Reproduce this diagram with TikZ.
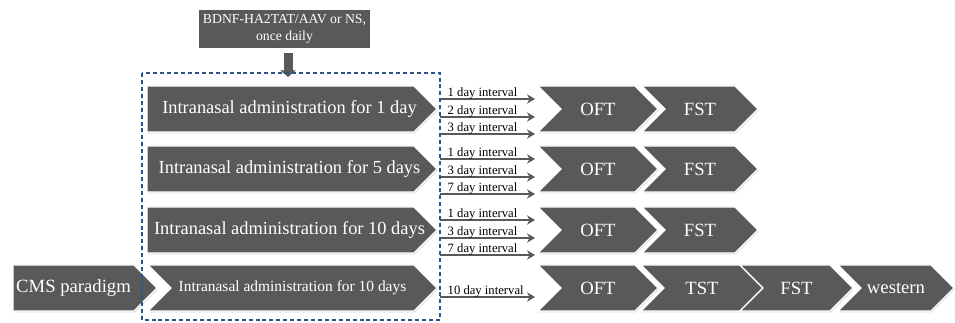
\documentclass[tikz,border=0pt]{standalone}
\usepackage{fontspec}
\setmainfont{Liberation Serif}
\usetikzlibrary{shapes.symbols,arrows.meta,calc,shadows}
\definecolor{boxgray}{RGB}{89,89,89}
\definecolor{frameblue}{RGB}{46,84,140}
\newcommand{\admtext}[1]{\makebox[0pt]{\hspace*{13.5pt}#1}}
\tikzset{
  blk/.style={fill=boxgray, draw=white, line width=1pt, text=white, inner sep=0pt,
    minimum height=34.5pt,
    drop shadow={shadow xshift=0.6pt, shadow yshift=-1pt, opacity=0.3}},
  pent/.style={blk, signal, signal to=east, signal pointer angle=90},
  chev/.style={pent, signal from=west},
  big/.style={font=\fontsize{14}{16}\selectfont},
  adm/.style={font=\fontsize{13.8}{16}\selectfont},
  iv/.style={draw=boxgray, line width=1.5pt, -{Stealth[length=6pt,width=7pt]}},
  ivlab/.style={font=\fontsize{9.5}{11}\selectfont, anchor=base west, inner sep=0pt,
    xshift=5pt, yshift=2pt},
  framebox/.style={draw=frameblue, line width=0.9pt, dash pattern=on 3pt off 2.2pt}
}
\begin{document}
\begin{tikzpicture}[x=0.75pt,y=-0.75pt]
\useasboundingbox (0,0) rectangle (955,323);

% treatment
\node[blk, rectangle, minimum width=129.75pt, minimum height=30pt, align=center,
  font=\fontsize{10.3}{12.75}\selectfont] (dose) at (284.5,29) {BDNF-HA2TAT/AAV or NS,\\once daily};
\coordinate (dn) at (288,77);
\draw[boxgray, line width=6.75pt, shorten <=2.5pt, -{Triangle[length=5pt,width=11.5pt]}] (dose.south -| dn) -- (dn);

% rows
\coordinate (r1) at (0,109);
\coordinate (r2) at (0,169);
\coordinate (r3) at (0,230);
\coordinate (r4) at (0,288);

\node[pent, adm, minimum width=217.5pt] (adm1) at (280.5,109) {\admtext{Intranasal administration for 1 day}};
\node[pent, adm, minimum width=217.5pt] (adm2) at (280.5,169) {\admtext{Intranasal administration for 5 days}};
\node[pent, adm, minimum width=217.5pt] (adm3) at (280.5,230) {\admtext{Intranasal administration for 10 days}};
\node[pent, big, minimum width=108pt] (cms) at (73.5,288) {CMS paradigm};
\node[chev, font=\fontsize{11.6}{14}\selectfont, minimum width=216.75pt] (adm4) at (292.5,288) {Intranasal administration for 10 days};

% tests
\foreach \r in {1,2,3}{
  \node[chev, big, minimum width=90pt] (oft\r) at (598,0 |- r\r) {OFT};
  \node[chev, big, minimum width=87pt] (fst\r) at (700,0 |- r\r) {FST};
}
\node[chev, big, minimum width=90pt] (oft4) at (598,288) {OFT};
\node[chev, big, minimum width=91.5pt] (tst4) at (702,288) {TST};
\node[chev, big, minimum width=84.75pt] (fst4) at (796.5,288) {FST};
\node[chev, big, minimum width=87pt] (wb4) at (896,288) {western};

% frame and intervals
\coordinate (fr-tl) at (142,73);
\coordinate (fr-br) at (440,320);
\coordinate (in) at (535,0);
\foreach \r/\la/\lb/\lc in {1/1/2/3, 2/1/3/7, 3/1/3/7}{
  \draw[iv] ($(fr-br |- r\r)+(0,-10)$) -- ($(in |- r\r)+(0,-10)$) node[ivlab, pos=0] {\la\ day interval};
  \draw[iv] ($(fr-br |- r\r)+(0,8)$) -- ($(in |- r\r)+(0,8)$) node[ivlab, pos=0] {\lb\ day interval};
  \draw[iv] ($(fr-br |- r\r)+(0,25)$) -- ($(in |- r\r)+(0,25)$) node[ivlab, pos=0] {\lc\ day interval};
}
\draw[iv] ($(fr-br |- r4)+(0,9)$) -- ($(in |- r4)+(0,9)$) node[ivlab, pos=0] {10 day interval};
\draw[framebox] (fr-tl) rectangle (fr-br);
\end{tikzpicture}
\end{document}
